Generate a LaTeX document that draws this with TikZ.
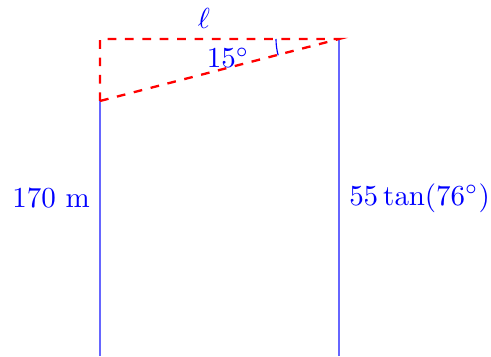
\documentclass[tikz,border=0pt]{standalone}
\usepackage{amsmath, amssymb}
\usepackage{tikz}
\usetikzlibrary{arrows.meta, positioning, calc}
\tikzset{
  wall/.style={blue!60, line width=0.4pt},
  sight/.style={red, thick, dashed},
  lbl/.style={blue}
}

\begin{document}
\begin{tikzpicture}[x=0.345pt,y=0.345pt]
			\useasboundingbox (0,0) rectangle (491,356);
			% corners
			\coordinate (lbot) at (100,0);
			\coordinate (ltop) at (100,255);
			\coordinate (lsky) at (100,317);
			\coordinate (rtop) at (339,317);
			\coordinate (rbot) at (339,0);
			% buildings
			\draw[wall] (lbot) -- (ltop);
			\draw[wall] (rbot) -- (rtop);
			% sight lines
			\draw[sight] (ltop) -- (lsky) -- (rtop) -- cycle;
			% angle mark
			\draw[blue, line width=0.4pt] ($(rtop)+(-63,0)$) arc[start angle=180, end angle=195, radius=63];
			% labels
			\node[lbl] (ell) at (204,338) {$\ell$};
			\node[lbl] (ang) at (228,298) {$15^\circ$};
			\node[lbl, left] (hl) at (100,158) {$170$ m};
			\node[lbl, right] (hr) at (339,158) {$55\tan(76^\circ)$};
		\end{tikzpicture}
\end{document}
